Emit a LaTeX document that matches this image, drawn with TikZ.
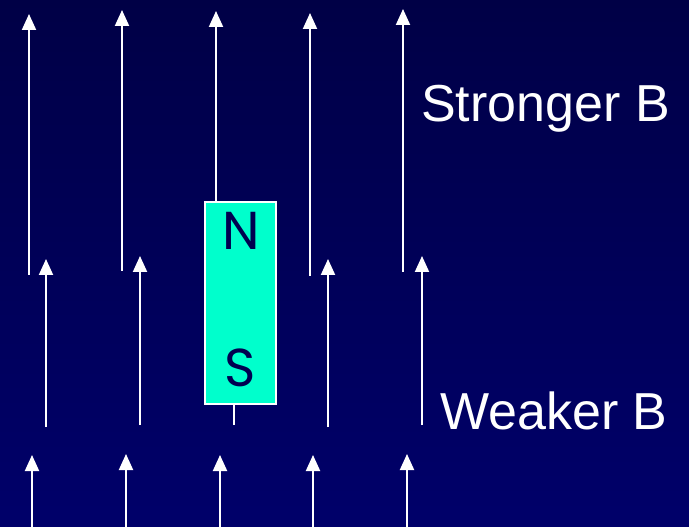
\documentclass[tikz,border=0pt]{standalone}
\usepackage{fontspec}
\setmainfont{Liberation Sans}
\newfontfamily\polefont{Poppins}
\usetikzlibrary{arrows.meta,positioning}

\definecolor{bgtop}{RGB}{0,0,70}
\definecolor{bgbot}{RGB}{0,0,106}
\definecolor{magcol}{RGB}{0,255,204}
\definecolor{polecol}{RGB}{0,0,80}

\begin{document}
\begin{tikzpicture}[x=0.75pt,y=-0.75pt,
                    field/.style={draw=white,line width=1.5pt,-{Triangle[width=10.5pt,length=12pt]}},
                    stub/.style={draw=white,line width=1.5pt},
                    magnet/.style={rectangle,draw=white,line width=1.5pt,fill=magcol,inner sep=0pt,
                                   minimum width=53pt,minimum height=151.5pt},
                    pole/.style={text=polecol,font=\polefont\fontsize{40}{40}\selectfont},
                    caption/.style={text=white,anchor=base west,inner sep=0pt,font=\fontsize{39}{40}\selectfont}]

 \useasboundingbox (0,0) rectangle (689,527);
 \shade[top color=bgtop,bottom color=bgbot] (0,0) rectangle (689,527);

 % the magnet
 \node[magnet] (mag) at (240.5,303) {};
 \node[pole] (N) at (241,231) {N};
 \node[pole] (S) at (240,368) {S};

 % top row
 \coordinate (t1) at (29,14);   \coordinate (b1) at (29,275);
 \coordinate (t2) at (122,10);  \coordinate (b2) at (122,271);
 \coordinate (t3) at (216,11);
 \coordinate (t4) at (310,13);  \coordinate (b4) at (310,276);
 \coordinate (t5) at (403,9);   \coordinate (b5) at (403,272);

 \path
 (b1) edge[field] (t1)
 (b2) edge[field] (t2)
 (t3 |- mag.north) edge[field] (t3)
 (b4) edge[field] (t4)
 (b5) edge[field] (t5);

 % middle row
 \coordinate (u1) at (46,259);  \coordinate (v1) at (46,427);
 \coordinate (u2) at (140,256); \coordinate (v2) at (140,425);
 \coordinate (v3) at (234,425);
 \coordinate (u4) at (328,259); \coordinate (v4) at (328,427);
 \coordinate (u5) at (422,256); \coordinate (v5) at (422,425);

 \path
 (v1) edge[field] (u1)
 (v2) edge[field] (u2)
 (v3 |- mag.south) edge[stub] (v3)
 (v4) edge[field] (u4)
 (v5) edge[field] (u5);

 % bottom row
 \coordinate (w1) at (32,455);  \coordinate (z1) at (32,527);
 \coordinate (w2) at (126,454); \coordinate (z2) at (126,527);
 \coordinate (w3) at (220,455); \coordinate (z3) at (220,527);
 \coordinate (w4) at (313,455); \coordinate (z4) at (313,527);
 \coordinate (w5) at (407,454); \coordinate (z5) at (407,527);

 \path
 (z1) edge[field] (w1)
 (z2) edge[field] (w2)
 (z3) edge[field] (w3)
 (z4) edge[field] (w4)
 (z5) edge[field] (w5);

 % labels
 \node[caption] (strong) at (421,122) {Stronger B};
 \node[caption] (weak) at (440,429) {Weaker B};

\end{tikzpicture}
\end{document}
